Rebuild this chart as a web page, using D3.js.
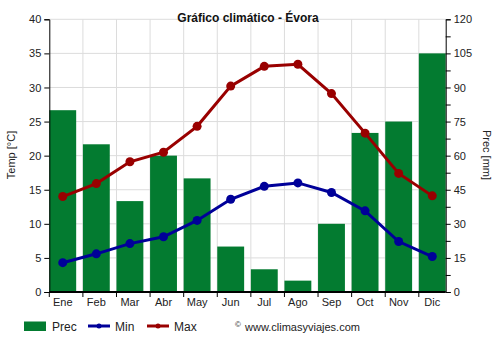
<!DOCTYPE html>
<html><head><meta charset="utf-8">
<script src="https://cdn.jsdelivr.net/npm/d3@7"></script>
<style>body{margin:0;background:#fff}svg{display:block;font-family:"Liberation Sans",Arial,sans-serif}</style>
</head><body><svg id="c" width="500" height="350"></svg>
<script>
const months = ["Ene","Feb","Mar","Abr","May","Jun","Jul","Ago","Sep","Oct","Nov","Dic"];
const prec = [80,65,40,60,50,20,10,5,30,70,75,105];
const tmin = [4.3,5.6,7.1,8.1,10.5,13.6,15.5,16.0,14.6,11.9,7.4,5.2];
const tmax = [14.0,15.9,19.1,20.5,24.3,30.2,33.1,33.4,29.1,23.3,17.4,14.1];
const tempTicks = [0,5,10,15,20,25,30,35,40];
const precTicks = [0,15,30,45,60,75,90,105,120];

const svg = d3.select("#c");
const L=49.3, R=445.7, T=19.3, B=292;
const x = d3.scaleBand().domain(months).range([L,R]).paddingInner(0.2).paddingOuter(0);
const yT = d3.scaleLinear().domain([0,40]).range([B,T]);
const yP = d3.scaleLinear().domain([0,120]).range([B,T]);

// grid
const g = svg.append("g");
g.selectAll("line.h").data(tempTicks.slice(1)).join("line")
 .attr("x1",L).attr("x2",R).attr("y1",d=>yT(d)).attr("y2",d=>yT(d))
 .attr("stroke","#dcdcdc").attr("stroke-width",1);
g.selectAll("line.v").data(months.slice(1)).join("line")
 .attr("x1",d=>x(d)).attr("x2",d=>x(d)).attr("y1",T).attr("y2",B)
 .attr("stroke","#dcdcdc").attr("stroke-width",1);

// bars
svg.append("g").selectAll("rect").data(prec).join("rect")
 .attr("x",(d,i)=>x(months[i])).attr("width",x.bandwidth())
 .attr("y",d=>yP(d)).attr("height",d=>B-yP(d)).attr("fill","#037b30");

// lines
function series(data,color){
  const line=d3.line().x((d,i)=>x(months[i])+x.bandwidth()/2).y(d=>yT(d));
  svg.append("path").datum(data).attr("d",line).attr("fill","none").attr("stroke",color).attr("stroke-width",3);
  svg.append("g").selectAll("circle").data(data).join("circle")
   .attr("cx",(d,i)=>x(months[i])+x.bandwidth()/2).attr("cy",d=>yT(d)).attr("r",4.5).attr("fill",color);
}
series(tmin,"#000099");
series(tmax,"#990000");

// left axis
const la = svg.append("g").attr("transform",`translate(${L},0)`)
 .call(d3.axisLeft(yT).tickValues(tempTicks).tickSize(5).tickPadding(3));
la.select(".domain").attr("stroke","#000");
la.selectAll("text").attr("font-size",11).attr("fill","#222").attr("font-family","Liberation Sans, Arial, sans-serif");
// right axis
const ra = svg.append("g").attr("transform",`translate(${R},0)`)
 .call(d3.axisRight(yP).tickValues(d3.range(0,121,7.5)).tickSize(5).tickPadding(3)
   .tickFormat(d=> precTicks.includes(d)? d : ""));
ra.select(".domain").attr("stroke","#000");
ra.selectAll("text").attr("font-size",11).attr("fill","#222").attr("font-family","Liberation Sans, Arial, sans-serif");
// bottom axis
const ba = svg.append("g").attr("transform",`translate(0,${B})`);
ba.append("line").attr("x1",L).attr("x2",R).attr("y1",0).attr("y2",0).attr("stroke","#000").attr("stroke-width",2);
ba.selectAll("line.t").data(months).join("line").attr("x1",d=>x(d)).attr("x2",d=>x(d)).attr("y1",0).attr("y2",5).attr("stroke","#000");
ba.selectAll("text").data(months).join("text").attr("x",d=>x(d)+x.bandwidth()/2).attr("y",14)
 .attr("text-anchor","middle").attr("font-size",11).attr("fill","#222").text(d=>d);

// title & axis titles
svg.append("text").attr("x",248).attr("y",22).attr("text-anchor","middle").attr("font-size",12).attr("font-weight","bold").attr("fill","#111").text("Gráfico climático - Évora");
svg.append("text").attr("transform",`translate(15,155) rotate(-90)`).attr("text-anchor","middle").attr("font-size",11).attr("fill","#222").text("Temp [°C]");
svg.append("text").attr("transform",`translate(483,155) rotate(90)`).attr("text-anchor","middle").attr("font-size",11).attr("fill","#222").text("Prec [mm]");

// legend
const lg = svg.append("g").attr("font-size",12).attr("fill","#222");
lg.append("rect").attr("x",24).attr("y",321.5).attr("width",22).attr("height",9.5).attr("fill","#037b30");
lg.append("text").attr("x",52).attr("y",331).text("Prec");
lg.append("line").attr("x1",88).attr("x2",110).attr("y1",326).attr("y2",326).attr("stroke","#000099").attr("stroke-width",3);
lg.append("circle").attr("cx",99).attr("cy",326).attr("r",2.5).attr("fill","#000099");
lg.append("text").attr("x",115).attr("y",331).text("Min");
lg.append("line").attr("x1",147).attr("x2",169).attr("y1",326).attr("y2",326).attr("stroke","#990000").attr("stroke-width",3);
lg.append("circle").attr("cx",158).attr("cy",326).attr("r",2.5).attr("fill","#990000");
lg.append("text").attr("x",174).attr("y",331).text("Max");
lg.append("text").attr("x",235).attr("y",327).attr("font-size",8).text("©");
lg.append("text").attr("x",245).attr("y",331).attr("font-size",11).text("www.climasyviajes.com");
</script></body></html>
